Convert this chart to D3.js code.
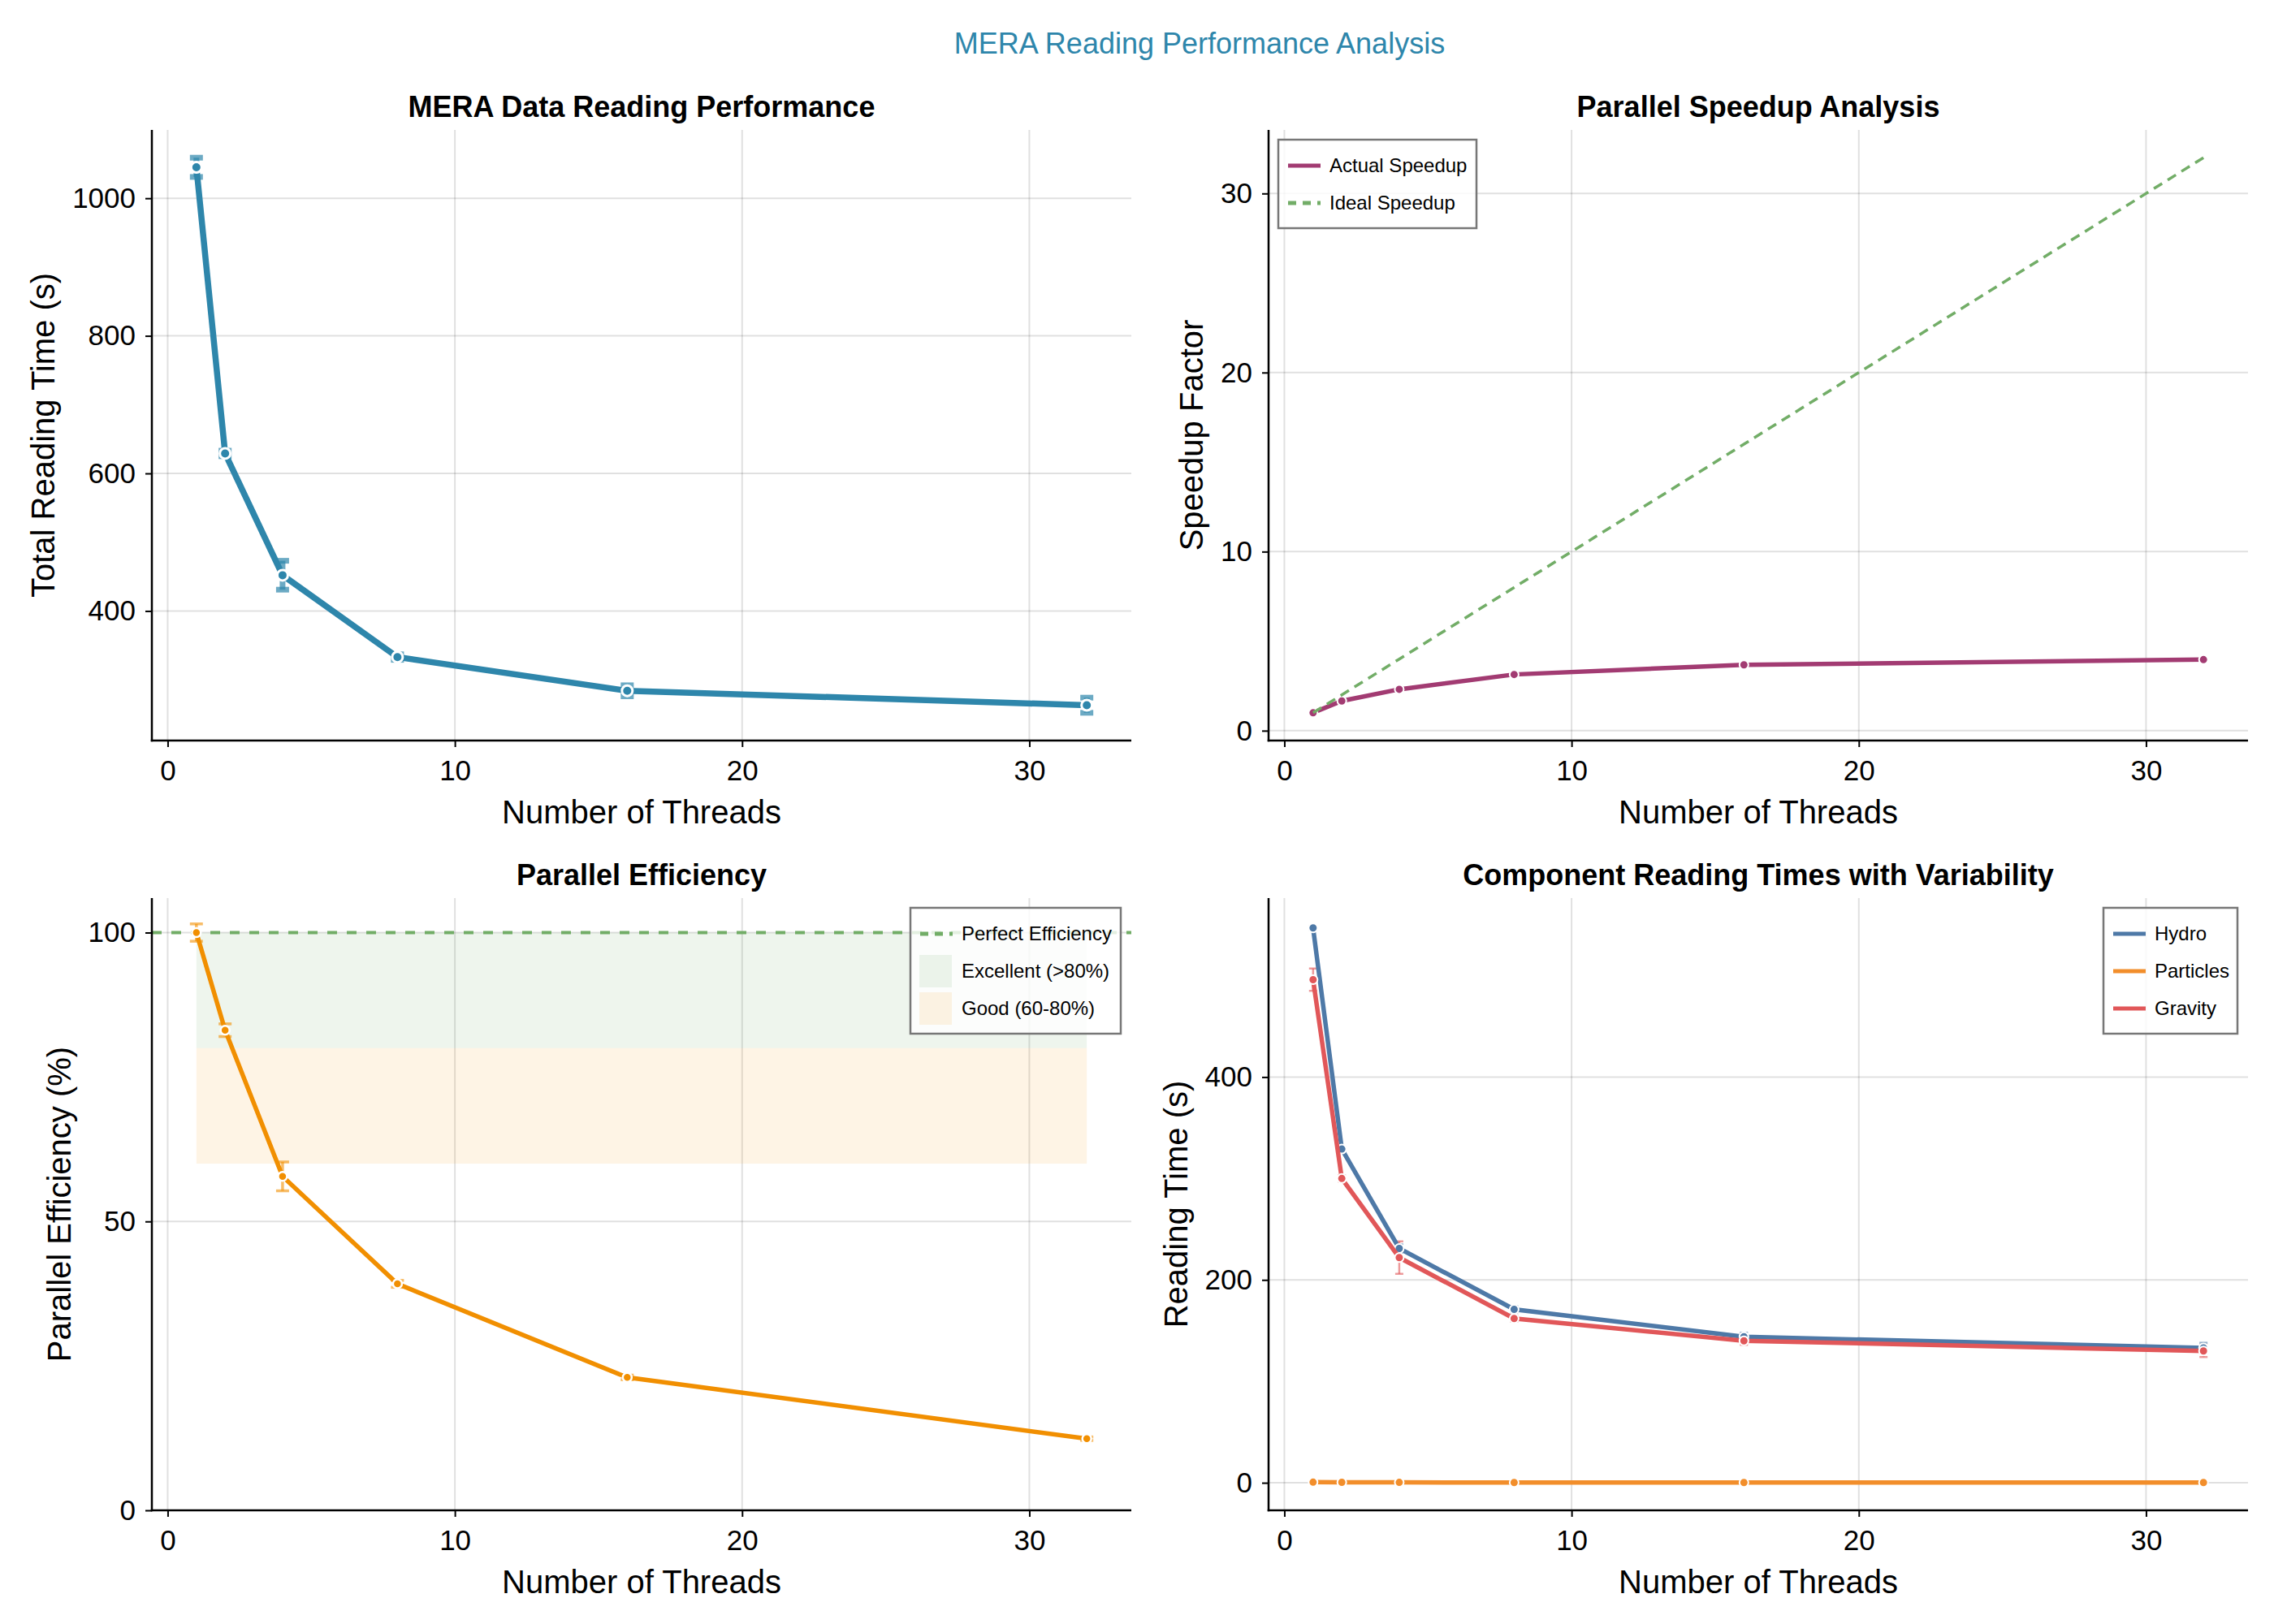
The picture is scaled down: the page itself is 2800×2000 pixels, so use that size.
<!DOCTYPE html>
<html>
<head>
<meta charset="utf-8">
<script src="https://cdn.jsdelivr.net/npm/d3@7"></script>
<style>
  body { margin: 0; background: #fff; }
  svg { display: block; font-family: "Liberation Sans", Arial, Helvetica, sans-serif; }
</style>
</head>
<body>
<div id="chart"></div>
<script>
// values
var threads = [1, 2, 4, 8, 16, 32];
var totalTime = [1045, 629, 452, 333, 284, 263];
var totalErr = [14, 4, 21, 4, 8, 11];
var speedup = [1.0, 1.66, 2.31, 3.14, 3.68, 3.97];
var idealSpeedup = [1, 2, 4, 8, 16, 32];
var efficiency = [100, 83.1, 57.8, 39.2, 23.0, 12.4];
var efficiencyErr = [1.5, 1.1, 2.5, 0.6, 0.4, 0.3];
var hydroTime = [547, 329, 231, 171, 144, 133];
var hydroErr = [2, 2, 4, 3, 4, 5];
var particlesTime = [0.6, 0.5, 0.4, 0.3, 0.3, 0.3];
var gravityTime = [496, 300, 222, 162, 140, 130];
var gravityErr = [11, 3, 16, 3, 4, 6];

var bandNames = ["Excellent (>80%)", "Good (60-80%)"];
var bandLow = [80, 60];
var bandHigh = [100, 80];
var perfectEfficiency = 100;

var xTicks = [0, 10, 20, 30];
var totalTicks = [400, 600, 800, 1000];
var speedupTicks = [0, 10, 20, 30];
var efficiencyTicks = [0, 50, 100];
var componentTicks = [0, 200, 400];

var suptitle = "MERA Reading Performance Analysis";
var titles = ["MERA Data Reading Performance", "Parallel Speedup Analysis",
              "Parallel Efficiency", "Component Reading Times with Variability"];
var yLabels = ["Total Reading Time (s)", "Speedup Factor", "Parallel Efficiency (%)", "Reading Time (s)"];
var xLabel = "Number of Threads";

var W = 2800, H = 2000;
var green = "#72ad67";

var svg = d3.select("#chart").append("svg")
  .attr("width", W)
  .attr("height", H);

svg.append("text")
  .attr("x", 1477)
  .attr("y", 66)
  .attr("text-anchor", "middle")
  .attr("font-size", 36)
  .attr("fill", "#2E86AB")
  .text(suptitle);

// 5% margin like the original autolimits
function padded(lo, hi) {
  var m = (hi - lo) * 0.05;
  return [lo - m, hi + m];
}

var xDomain = padded(d3.min(threads), d3.max(threads));

function makeAxes(box, yDomain, yTicks, title, ylabel) {
  var x = d3.scaleLinear().domain(xDomain).range([box.left, box.right]);
  var y = d3.scaleLinear().domain(yDomain).range([box.bottom, box.top]);
  var g = svg.append("g");

  var grid = g.append("g");
  grid.selectAll("line.gx").data(xTicks).enter().append("line")
    .attr("x1", d => x(d)).attr("x2", d => x(d))
    .attr("y1", box.top).attr("y2", box.bottom)
    .attr("stroke", "#000").attr("stroke-opacity", 0.12).attr("stroke-width", 2);
  grid.selectAll("line.gy").data(yTicks).enter().append("line")
    .attr("x1", box.left).attr("x2", box.right)
    .attr("y1", d => y(d)).attr("y2", d => y(d))
    .attr("stroke", "#000").attr("stroke-opacity", 0.12).attr("stroke-width", 2);

  var plot = g.append("g");
  var front = g.append("g");

  var xa = front.append("g")
    .attr("transform", "translate(0," + box.bottom + ")")
    .call(d3.axisBottom(x).tickValues(xTicks).tickSize(8).tickPadding(16).tickFormat(d3.format("d")));
  var ya = front.append("g")
    .attr("transform", "translate(" + box.left + ",0)")
    .call(d3.axisLeft(y).tickValues(yTicks).tickSize(8).tickPadding(12).tickFormat(d3.format("d")));
  [xa, ya].forEach(function(a) {
    a.select(".domain").remove();
    a.attr("font-size", 35).attr("font-family", null);
    a.selectAll(".tick line").attr("stroke-width", 2);
  });

  front.append("line")
    .attr("x1", box.left).attr("x2", box.left)
    .attr("y1", box.top).attr("y2", box.bottom + 1.25)
    .attr("stroke", "#000").attr("stroke-width", 2.5);
  front.append("line")
    .attr("x1", box.left - 1.25).attr("x2", box.right)
    .attr("y1", box.bottom).attr("y2", box.bottom)
    .attr("stroke", "#000").attr("stroke-width", 2.5);

  front.append("text")
    .attr("x", (box.left + box.right) / 2)
    .attr("y", box.top - 16)
    .attr("text-anchor", "middle")
    .attr("font-size", 36)
    .attr("font-weight", "bold")
    .text(title);

  front.append("text")
    .attr("x", (box.left + box.right) / 2)
    .attr("y", box.bottom + 102)
    .attr("text-anchor", "middle")
    .attr("font-size", 40)
    .text(xLabel);

  var maxW = 0;
  ya.selectAll(".tick text").each(function() {
    maxW = Math.max(maxW, this.getComputedTextLength());
  });
  var lx = box.left - 20 - maxW - 22;
  front.append("text")
    .attr("transform", "translate(" + lx + "," + ((box.top + box.bottom) / 2) + ") rotate(-90)")
    .attr("text-anchor", "middle")
    .attr("font-size", 40)
    .text(ylabel);

  return {x: x, y: y, box: box, plot: plot, front: front};
}

function errorBars(ax, values, errs, color, opacity, lw, ww) {
  var eg = ax.plot.append("g")
    .attr("stroke", color)
    .attr("stroke-opacity", opacity);
  values.forEach(function(v, i) {
    var cx = ax.x(threads[i]);
    var y0 = ax.y(v - errs[i]), y1 = ax.y(v + errs[i]);
    eg.append("line").attr("x1", cx).attr("x2", cx).attr("y1", y0).attr("y2", y1).attr("stroke-width", lw);
    eg.append("line").attr("x1", cx - ww / 2).attr("x2", cx + ww / 2).attr("y1", y0).attr("y2", y0).attr("stroke-width", lw);
    eg.append("line").attr("x1", cx - ww / 2).attr("x2", cx + ww / 2).attr("y1", y1).attr("y2", y1).attr("stroke-width", lw);
  });
}

function series(ax, values, color, lw, r, sw, dash) {
  var line = d3.line()
    .x((d, i) => ax.x(threads[i]))
    .y(d => ax.y(d));
  ax.plot.append("path")
    .datum(values)
    .attr("d", line)
    .attr("fill", "none")
    .attr("stroke", color)
    .attr("stroke-width", lw)
    .attr("stroke-dasharray", dash || null);
  if (r > 0) {
    ax.plot.append("g").selectAll("circle").data(values).enter().append("circle")
      .attr("cx", (d, i) => ax.x(threads[i]))
      .attr("cy", d => ax.y(d))
      .attr("r", r)
      .attr("fill", color)
      .attr("stroke", "#fff")
      .attr("stroke-width", sw);
  }
}

function legend(ax, x0, y0, w, items) {
  var lg = ax.front.append("g");
  lg.append("rect")
    .attr("x", x0).attr("y", y0)
    .attr("width", w).attr("height", 46 * items.length + 17)
    .attr("fill", "#fff").attr("fill-opacity", 0.8)
    .attr("stroke", "#777").attr("stroke-width", 2.5);
  items.forEach(function(it, i) {
    var cy = y0 + 32 + i * 46;
    if (it.type === "patch") {
      lg.append("rect")
        .attr("x", x0 + 11).attr("y", cy - 20)
        .attr("width", 40).attr("height", 40)
        .attr("fill", it.color).attr("fill-opacity", 0.1);
    } else {
      lg.append("line")
        .attr("x1", x0 + 12).attr("x2", x0 + 52)
        .attr("y1", cy).attr("y2", cy)
        .attr("stroke", it.color)
        .attr("stroke-width", 5)
        .attr("stroke-dasharray", it.type === "dash" ? "10,8" : null);
    }
    lg.append("text")
      .attr("x", x0 + 63).attr("y", cy)
      .attr("dy", "0.35em")
      .attr("font-size", 24)
      .text(it.name);
  });
}

// panel 1: total reading time
var ax1 = makeAxes({left: 187, right: 1393, top: 160, bottom: 912},
  padded(d3.min(totalTime.map((d, i) => d - totalErr[i])), d3.max(totalTime.map((d, i) => d + totalErr[i]))),
  totalTicks, titles[0], yLabels[0]);
errorBars(ax1, totalTime, totalErr, "#2E86AB", 0.7, 7, 16);
series(ax1, totalTime, "#2E86AB", 7.5, 6.5, 3);

// panel 2: speedup
var ax2 = makeAxes({left: 1562, right: 2768, top: 160, bottom: 912},
  padded(d3.min(speedup), d3.max(idealSpeedup)),
  speedupTicks, titles[1], yLabels[1]);
series(ax2, speedup, "#A23B72", 5.5, 5.5, 2);
series(ax2, idealSpeedup, green, 3.5, 0, 0, "12,8");
legend(ax2, 1574, 172, 244, [
  {name: "Actual Speedup", color: "#A23B72", type: "line"},
  {name: "Ideal Speedup", color: green, type: "dash"}
]);

// panel 3: efficiency with bands
var effHi = padded(d3.min(efficiency.map((d, i) => d - efficiencyErr[i])), d3.max(efficiency.map((d, i) => d + efficiencyErr[i])))[1];
var ax3 = makeAxes({left: 187, right: 1393, top: 1106, bottom: 1860},
  [0, effHi], efficiencyTicks, titles[2], yLabels[2]);
var bandColors = ["#5aa04a", "#F18F01"];
bandNames.forEach(function(n, i) {
  ax3.plot.append("rect")
    .attr("x", ax3.x(threads[0]))
    .attr("width", ax3.x(threads[threads.length - 1]) - ax3.x(threads[0]))
    .attr("y", ax3.y(bandHigh[i]))
    .attr("height", ax3.y(bandLow[i]) - ax3.y(bandHigh[i]))
    .attr("fill", bandColors[i])
    .attr("fill-opacity", 0.1);
});
ax3.plot.append("line")
  .attr("x1", ax3.box.left).attr("x2", ax3.box.right)
  .attr("y1", ax3.y(perfectEfficiency)).attr("y2", ax3.y(perfectEfficiency))
  .attr("stroke", green).attr("stroke-width", 4).attr("stroke-dasharray", "12,12");
errorBars(ax3, efficiency, efficiencyErr, "#F18F01", 0.6, 3.5, 16);
series(ax3, efficiency, "#F18F01", 5.5, 5.5, 2.5);
legend(ax3, 1121, 1118, 259, [
  {name: "Perfect Efficiency", color: green, type: "dash"},
  {name: bandNames[0], color: bandColors[0], type: "patch"},
  {name: bandNames[1], color: bandColors[1], type: "patch"}
]);

// panel 4: components
var ax4 = makeAxes({left: 1562, right: 2768, top: 1106, bottom: 1860},
  padded(d3.min(particlesTime), d3.max(hydroTime.map((d, i) => d + hydroErr[i]))),
  componentTicks, titles[3], yLabels[3]);
errorBars(ax4, hydroTime, hydroErr, "#4E79A7", 0.6, 2.5, 10);
errorBars(ax4, gravityTime, gravityErr, "#E15759", 0.6, 2.5, 10);
series(ax4, hydroTime, "#4E79A7", 5.5, 5.5, 2);
series(ax4, particlesTime, "#F28E2B", 5.5, 5.5, 2);
series(ax4, gravityTime, "#E15759", 5.5, 5.5, 2);
legend(ax4, 2590, 1118, 165, [
  {name: "Hydro", color: "#4E79A7", type: "line"},
  {name: "Particles", color: "#F28E2B", type: "line"},
  {name: "Gravity", color: "#E15759", type: "line"}
]);
</script>
</body>
</html>
